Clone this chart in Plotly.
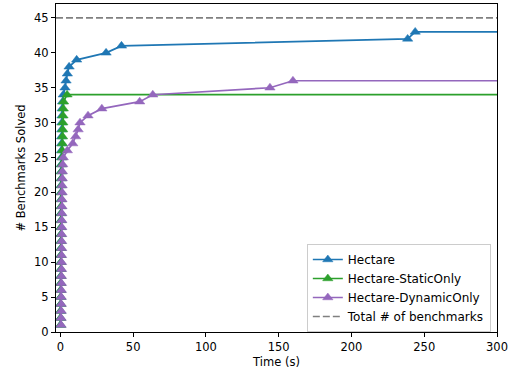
import plotly.graph_objects as go

# ---- data ----
hectare_y = list(range(1, 44))
hectare_t = [0.1, 0.1, 0.1, 0.2, 0.2, 0.2, 0.2, 0.2, 0.3, 0.3, 0.3, 0.3, 0.3, 0.4, 0.4,
             0.4, 0.4, 0.5, 0.5, 0.5, 0.5, 0.6, 0.6, 0.6, 0.7, 0.7, 0.8, 0.8, 0.9, 1.0,
             1.1, 1.2, 1.5, 2.0, 3.2, 3.9, 4.8, 6.0, 11.2, 31.4, 42.0, 238.6, 243.8]

static_y = list(range(1, 35))
static_t = [0.2, 0.2, 0.2, 0.3, 0.3, 0.3, 0.3, 0.4, 0.4, 0.4, 0.4, 0.5, 0.5, 0.5, 0.5,
            0.6, 0.6, 0.6, 0.7, 0.7, 0.7, 0.8, 0.8, 0.9, 1.2, 1.3, 1.4, 1.5, 1.6, 1.7,
            1.8, 2.0, 2.2, 4.6]

dynamic_y = list(range(1, 37))
dynamic_t = [0.5, 0.5, 0.6, 0.6, 0.6, 0.7, 0.7, 0.7, 0.8, 0.8, 0.8, 0.9, 0.9, 0.9, 1.0,
             1.0, 1.0, 1.1, 1.1, 1.2, 1.2, 1.3, 1.4, 1.6, 2.0, 4.8, 8.5, 10.5, 12.2, 13.5,
             19.0, 28.5, 54.5, 63.5, 144.0, 159.8]

total_benchmarks = 45
x_range = [-3, 300]
y_range = [0, 47]
x_ticks = [0, 50, 100, 150, 200, 250, 300]
y_ticks = [0, 5, 10, 15, 20, 25, 30, 35, 40, 45]

series = [
    ("Hectare", hectare_t, hectare_y, "#1f77b4"),
    ("Hectare-StaticOnly", static_t, static_y, "#2ca02c"),
    ("Hectare-DynamicOnly", dynamic_t, dynamic_y, "#9467bd"),
]

FONT = "DejaVu Sans"
FS = 11.5

fig = go.Figure()
for name, t, y, color in series:
    # flat continuation of the last value to the right edge
    fig.add_trace(go.Scatter(
        x=[t[-1], x_range[1]], y=[y[-1], y[-1]], mode="lines",
        line=dict(color=color, width=1.7), showlegend=False, hoverinfo="skip",
        legendgroup=name, cliponaxis=False))
    fig.add_trace(go.Scatter(
        x=t, y=y, mode="lines+markers", name=name, legendgroup=name,
        line=dict(color=color, width=1.7),
        marker=dict(symbol="triangle-up", size=9, color=color,
                    line=dict(color=color, width=0.5)),
        cliponaxis=False))

fig.add_trace(go.Scatter(
    x=x_range, y=[total_benchmarks, total_benchmarks], mode="lines",
    name="Total # of benchmarks",
    line=dict(color="#808080", width=1.7, dash="7px,3px")))

axis_common = dict(
    showline=True, linecolor="black", linewidth=1, mirror=True,
    ticks="outside", ticklen=4, tickwidth=1, tickcolor="black",
    showgrid=False, zeroline=False,
    tickfont=dict(family=FONT, size=FS, color="black"),
)

fig.update_layout(
    width=512, height=379,
    margin=dict(l=56, r=15, t=4, b=47),
    paper_bgcolor="white", plot_bgcolor="white",
    font=dict(family=FONT, size=FS, color="black"),
    xaxis=dict(range=x_range, tickvals=x_ticks, title=dict(text="Time (s)", standoff=5,
               font=dict(family=FONT, size=FS)), **axis_common),
    yaxis=dict(range=y_range, tickvals=y_ticks, title=dict(text="# Benchmarks Solved", standoff=6,
               font=dict(family=FONT, size=FS)), **axis_common),
    legend=dict(x=0.986, y=0.0, xanchor="right", yanchor="bottom",
                bgcolor="white", bordercolor="#cccccc", borderwidth=1,
                font=dict(family=FONT, size=12), tracegroupgap=0),
)

fig.write_html("out.html")
